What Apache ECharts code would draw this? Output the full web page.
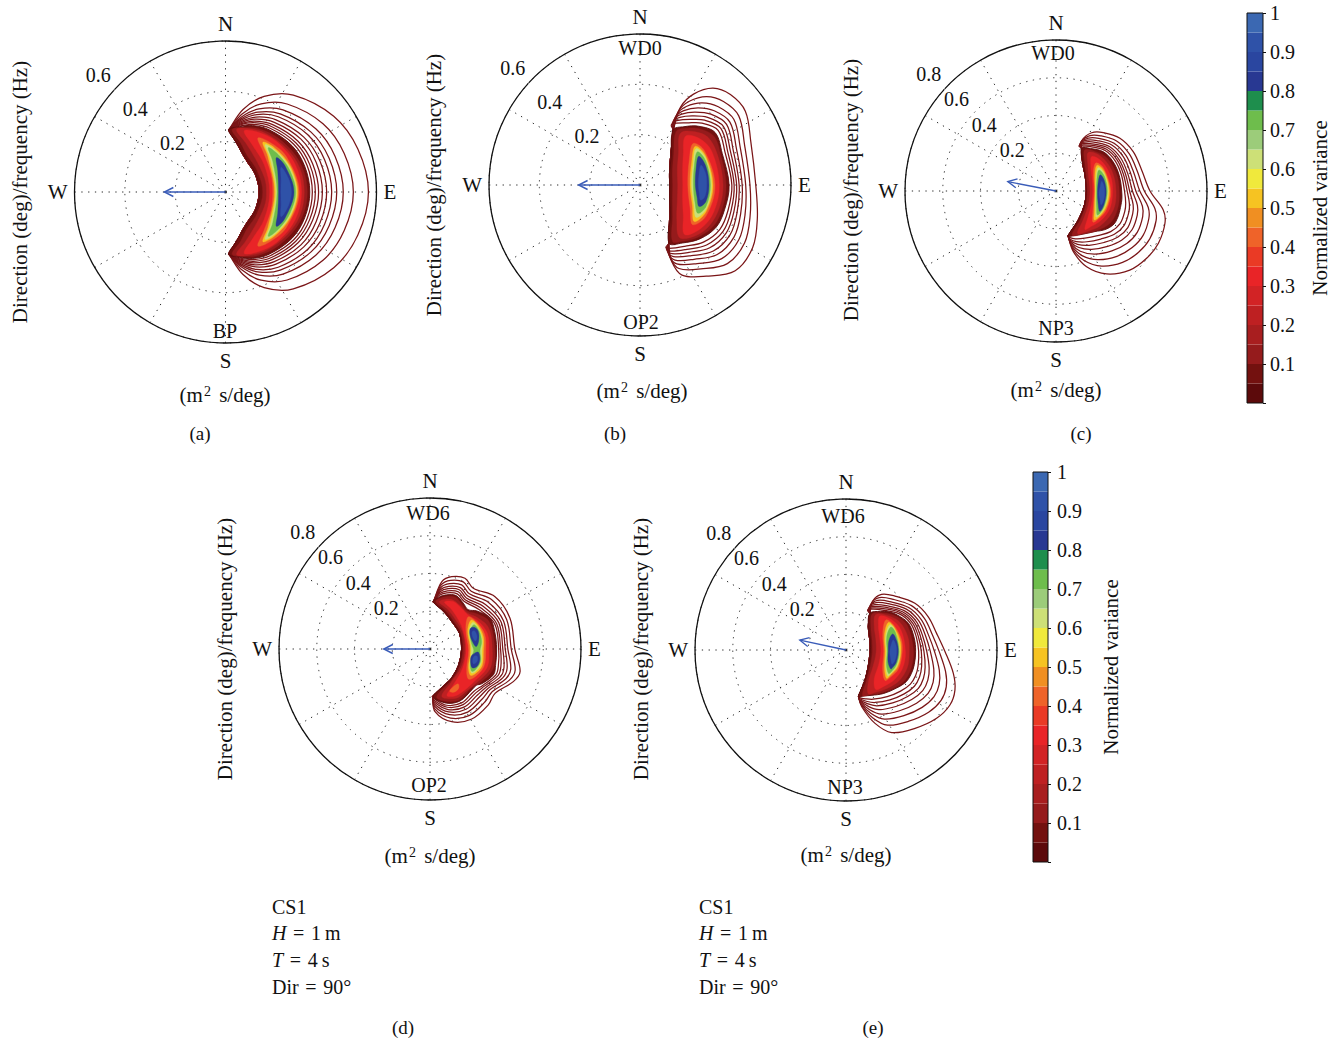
<!DOCTYPE html>
<html><head><meta charset="utf-8">
<script src="https://cdn.jsdelivr.net/npm/echarts@6/dist/echarts.min.js"></script>
<style>html,body{margin:0;padding:0;background:#fff}#c{width:1336px;height:1040px}</style>
</head><body><div id="c"></div>
<script>
// ================= DATA =================
const plotCaptions = ['(a)','(b)','(c)','(d)','(e)'];
const radiusMax = [0.6, 0.6, 0.8, 0.8, 0.8];
const radiusTicks = [[0.2,0.4,0.6],[0.2,0.4,0.6],[0.2,0.4,0.6,0.8],[0.2,0.4,0.6,0.8],[0.2,0.4,0.6,0.8]];
const compass = {0:'N', 90:'E', 180:'S', 270:'W'};
const topLabels = ['', 'WD0', 'WD0', 'WD6', 'WD6'];
const bottomLabels = ['BP', 'OP2', 'NP3', 'OP2', 'NP3'];
const meanDir = [270, 270, 281, 270, 282];       // deg (compass)
const meanLen = [0.243, 0.244, 0.26, 0.245, 0.25]; // Hz
const caseInfo = ['CS1', '{i|H}\u2004=\u20041\u2009m', '{i|T}\u2004=\u20044\u2009s', 'Dir\u2004=\u200490°'];

// colour bar: 20 bands of 0.05 normalized variance
const cbStep = 0.05;
const cbColors = ['#5c0a0b','#73110f','#951b1c','#a81e1f','#be2022','#d22325','#e92427','#ea3a25','#ef6329','#f08f22',
                  '#f6c322','#f0e93c','#cde077','#9ccc7a','#6ebd4c','#1e8e4d','#283892','#2a46a0','#2f52a8','#3b68b2'];

// ---- contour lines: radii (Hz) at shared bearings (deg); closed along the inner edge [r, bearing]
const linesBrgA = [3,12,22,35,55,72,90,108,125,145,158,168,177];
const linesA = [
 [0.247,0.335,0.41,0.47,0.525,0.553,0.568,0.553,0.525,0.47,0.41,0.335,0.247],
 [0.247,0.317,0.378,0.427,0.473,0.496,0.508,0.496,0.473,0.427,0.378,0.317,0.247],
 [0.247,0.305,0.356,0.398,0.438,0.458,0.468,0.458,0.438,0.398,0.356,0.305,0.247],
 [0.247,0.297,0.342,0.379,0.415,0.433,0.442,0.433,0.415,0.379,0.342,0.297,0.247],
 [0.247,0.291,0.332,0.365,0.398,0.414,0.422,0.414,0.398,0.365,0.332,0.291,0.247],
 [0.247,0.285,0.321,0.35,0.38,0.395,0.402,0.395,0.38,0.35,0.321,0.285,0.247],
 [0.247,0.28,0.312,0.338,0.366,0.379,0.385,0.379,0.366,0.338,0.312,0.28,0.247],
 [0.247,0.276,0.304,0.327,0.352,0.364,0.37,0.364,0.352,0.327,0.304,0.276,0.247],
 [0.247,0.272,0.297,0.318,0.341,0.352,0.357,0.352,0.341,0.318,0.297,0.272,0.247],
 [0.247,0.268,0.29,0.309,0.331,0.341,0.345,0.341,0.331,0.309,0.29,0.268,0.247]
];
const innerA = [[0.247,177],[0.2,167],[0.165,155],[0.15,145],[0.138,120],[0.134,90],[0.138,60],[0.15,35],[0.165,25],[0.2,13],[0.247,3]];

const linesBrgB = [31,27.5,30.5,37,45,55,69,90,106,119,132,144,155,157.5,154];
const linesB = [
 [0.257,0.348,0.419,0.482,0.508,0.511,0.472,0.46,0.485,0.512,0.509,0.448,0.395,0.326,0.26],
 [0.257,0.329,0.386,0.44,0.469,0.479,0.445,0.437,0.455,0.475,0.467,0.412,0.366,0.312,0.26],
 [0.257,0.315,0.362,0.409,0.44,0.455,0.426,0.42,0.434,0.449,0.437,0.386,0.346,0.302,0.26],
 [0.257,0.303,0.343,0.384,0.417,0.436,0.41,0.406,0.416,0.427,0.413,0.365,0.329,0.293,0.26],
 [0.257,0.293,0.327,0.363,0.398,0.42,0.396,0.394,0.401,0.409,0.392,0.347,0.314,0.286,0.26],
 [0.257,0.285,0.312,0.344,0.38,0.405,0.384,0.384,0.388,0.392,0.373,0.331,0.301,0.28,0.26],
 [0.257,0.277,0.298,0.326,0.364,0.392,0.373,0.374,0.376,0.378,0.356,0.316,0.29,0.274,0.26],
 [0.257,0.269,0.285,0.309,0.348,0.379,0.362,0.365,0.364,0.363,0.339,0.301,0.278,0.268,0.26]
];
const innerB = [[0.26,154],[0.17,136],[0.13,115],[0.118,90],[0.13,65],[0.167,47],[0.257,31]];

const linesBrgC = [31,27,31.5,39,50.5,63,76,90,100,106.5,117,126.6,137,148.6,158,164,165];
const linesC = [
 [0.264,0.299,0.362,0.398,0.439,0.459,0.467,0.498,0.577,0.602,0.609,0.598,0.573,0.515,0.433,0.334,0.247],
 [0.264,0.292,0.344,0.376,0.416,0.435,0.443,0.468,0.532,0.553,0.558,0.545,0.517,0.466,0.397,0.317,0.247],
 [0.264,0.286,0.329,0.359,0.398,0.416,0.423,0.444,0.496,0.513,0.518,0.503,0.473,0.426,0.369,0.303,0.247],
 [0.264,0.282,0.316,0.344,0.383,0.40,0.406,0.423,0.465,0.479,0.483,0.467,0.434,0.392,0.344,0.29,0.247],
 [0.264,0.277,0.305,0.331,0.369,0.385,0.391,0.405,0.438,0.449,0.452,0.435,0.401,0.362,0.323,0.28,0.247],
 [0.264,0.274,0.296,0.32,0.358,0.373,0.379,0.39,0.415,0.424,0.427,0.409,0.373,0.337,0.305,0.271,0.247],
 [0.264,0.271,0.287,0.311,0.347,0.363,0.368,0.377,0.395,0.402,0.404,0.385,0.348,0.315,0.289,0.264,0.247],
 [0.264,0.268,0.279,0.301,0.337,0.352,0.357,0.363,0.375,0.38,0.381,0.361,0.323,0.293,0.273,0.256,0.247]
];
const innerC = [[0.247,165],[0.194,142],[0.168,115],[0.161,90],[0.175,62],[0.204,44],[0.264,31]];

const linesBrgD = [4,10,16.7,26.3,35.5,51.2,69,90.5,104,111.4,124.3,133.8,149.2,163.4,175.4,177];
const linesD = [
 [0.251,0.362,0.4,0.418,0.395,0.442,0.454,0.45,0.492,0.474,0.417,0.428,0.432,0.402,0.333,0.253],
 [0.251,0.346,0.38,0.397,0.376,0.418,0.435,0.431,0.465,0.452,0.40,0.404,0.409,0.382,0.318,0.253],
 [0.251,0.331,0.362,0.379,0.359,0.396,0.417,0.413,0.441,0.432,0.384,0.383,0.389,0.363,0.304,0.253],
 [0.251,0.319,0.347,0.363,0.345,0.377,0.403,0.399,0.421,0.415,0.371,0.365,0.372,0.348,0.292,0.253],
 [0.251,0.308,0.334,0.35,0.332,0.361,0.39,0.386,0.404,0.401,0.36,0.35,0.357,0.335,0.282,0.253],
 [0.251,0.298,0.322,0.338,0.321,0.347,0.378,0.374,0.387,0.387,0.349,0.336,0.343,0.322,0.273,0.253],
 [0.251,0.289,0.311,0.326,0.31,0.333,0.368,0.364,0.373,0.375,0.34,0.323,0.331,0.311,0.264,0.253]
];
const innerD = [[0.253,177],[0.21,160],[0.193,143.5],[0.175,120],[0.168,90],[0.178,62],[0.184,42],[0.21,22],[0.251,4]];

const linesBrgE = [33,28.5,32.5,42.2,55.9,68,79.6,91,102.3,110.2,117.9,127,138.6,151,158.4,164.5,165];
const linesE = [
 [0.232,0.294,0.35,0.386,0.441,0.47,0.488,0.525,0.582,0.615,0.623,0.601,0.553,0.5,0.418,0.312,0.256],
 [0.232,0.282,0.329,0.364,0.419,0.448,0.464,0.494,0.54,0.566,0.57,0.548,0.503,0.455,0.387,0.301,0.256],
 [0.232,0.272,0.312,0.346,0.401,0.43,0.444,0.469,0.506,0.526,0.528,0.505,0.464,0.419,0.362,0.292,0.256],
 [0.232,0.264,0.298,0.331,0.386,0.415,0.428,0.447,0.476,0.492,0.492,0.468,0.429,0.388,0.34,0.284,0.256],
 [0.232,0.256,0.285,0.317,0.372,0.402,0.413,0.428,0.451,0.462,0.46,0.436,0.399,0.361,0.321,0.277,0.256],
 [0.232,0.25,0.274,0.306,0.361,0.391,0.401,0.413,0.429,0.437,0.434,0.409,0.374,0.338,0.306,0.272,0.256],
 [0.232,0.245,0.265,0.296,0.351,0.381,0.39,0.399,0.41,0.415,0.41,0.386,0.352,0.318,0.292,0.267,0.256],
 [0.232,0.239,0.256,0.286,0.341,0.371,0.379,0.385,0.391,0.393,0.386,0.362,0.33,0.298,0.278,0.262,0.256]
];
const innerE = [[0.256,165],[0.19,148],[0.145,125],[0.128,98],[0.135,70],[0.171,44],[0.232,33]];

// ---- filled contour levels: [level, polygon of [r (Hz), bearing (deg)]]
const fillsA = [
 [0.05,[[0.247,3],[0.265,12],[0.285,22],[0.302,35],[0.322,55],[0.331,72],[0.335,90],[0.331,108],[0.322,125],[0.302,145],[0.285,158],[0.265,168],[0.247,177],[0.2,167],[0.167,155],[0.152,145],[0.14,120],[0.136,90],[0.14,60],[0.152,35],[0.167,25],[0.2,13]]],
 [0.1,[[0.249,6],[0.265,15],[0.283,27],[0.3,45],[0.318,68],[0.325,90],[0.318,112],[0.3,135],[0.283,153],[0.265,165],[0.249,174],[0.205,163],[0.17,150],[0.152,125],[0.148,90],[0.152,55],[0.17,30],[0.205,17]]],
 [0.2,[[0.252,10],[0.268,20],[0.283,35],[0.298,55],[0.31,72],[0.313,90],[0.31,108],[0.298,125],[0.283,145],[0.268,160],[0.252,170],[0.212,158],[0.18,140],[0.165,110],[0.163,90],[0.165,70],[0.18,40],[0.212,22]]],
 [0.3,[[0.254,17],[0.27,28],[0.285,45],[0.298,68],[0.302,90],[0.298,112],[0.285,135],[0.27,152],[0.254,163],[0.215,150],[0.188,125],[0.176,90],[0.188,55],[0.215,30]]],
 [0.4,[[0.25,31],[0.265,42],[0.28,60],[0.293,90],[0.28,120],[0.265,138],[0.25,149],[0.218,136],[0.195,112],[0.188,90],[0.195,68],[0.218,44]]],
 [0.5,[[0.247,37],[0.262,48],[0.277,68],[0.287,90],[0.277,112],[0.262,132],[0.247,143],[0.22,130],[0.195,90],[0.22,50]]],
 [0.6,[[0.246,40],[0.26,52],[0.274,70],[0.283,90],[0.274,110],[0.26,128],[0.246,140],[0.222,127],[0.2,90],[0.222,53]]],
 [0.7,[[0.245,44],[0.258,56],[0.27,72],[0.279,90],[0.27,108],[0.258,124],[0.245,136],[0.224,123],[0.205,90],[0.224,57]]],
 [0.8,[[0.244,56],[0.258,66],[0.272,90],[0.258,114],[0.244,124],[0.224,112],[0.211,90],[0.224,68]]],
 [0.9,[[0.242,66],[0.256,78],[0.262,90],[0.256,102],[0.242,114],[0.226,102],[0.22,90],[0.226,78]]]
];
const fillsB = [
 [0.05,[[0.255,31],[0.29,37],[0.33,45],[0.364,55],[0.35,69],[0.354,90],[0.35,106],[0.346,119],[0.32,132],[0.285,144],[0.259,153.5],[0.17,135],[0.13,115],[0.118,90],[0.13,65],[0.167,48]]],
 [0.1,[[0.257,34],[0.295,40],[0.33,48],[0.352,57],[0.342,70],[0.342,90],[0.34,106],[0.335,119],[0.31,132],[0.28,143],[0.259,150],[0.18,134],[0.14,113],[0.13,90],[0.14,67],[0.18,48]]],
 [0.2,[[0.26,38],[0.3,45],[0.33,55],[0.33,70],[0.33,90],[0.328,106],[0.32,120],[0.3,132],[0.262,143],[0.2,133],[0.16,112],[0.15,90],[0.16,68],[0.2,50]]],
 [0.3,[[0.265,43],[0.3,52],[0.315,65],[0.315,90],[0.312,110],[0.298,125],[0.265,138],[0.21,125],[0.178,108],[0.17,90],[0.178,72],[0.21,55]]],
 [0.4,[[0.268,52],[0.29,62],[0.298,90],[0.29,115],[0.262,127],[0.22,115],[0.19,90],[0.22,63]]],
 [0.5,[[0.268,55],[0.285,65],[0.29,90],[0.283,112],[0.26,124],[0.225,112],[0.199,90],[0.225,66]]],
 [0.6,[[0.266,57],[0.282,67],[0.285,90],[0.28,110],[0.258,120],[0.228,110],[0.205,90],[0.228,68]]],
 [0.7,[[0.264,60],[0.278,70],[0.28,90],[0.276,108],[0.256,116],[0.23,108],[0.212,90],[0.23,70]]],
 [0.8,[[0.26,64],[0.272,74],[0.274,90],[0.27,104],[0.25,110],[0.232,102],[0.22,90],[0.232,74]]],
 [0.9,[[0.255,72],[0.265,80],[0.265,90],[0.262,100],[0.248,104],[0.238,98],[0.232,90],[0.238,80]]]
];
const fillsC = [
 [0.05,[[0.264,31],[0.29,39],[0.326,50.5],[0.34,63],[0.345,76],[0.348,90],[0.352,100],[0.356,117],[0.335,127],[0.295,137],[0.268,149],[0.255,158],[0.247,165],[0.194,142],[0.17,118],[0.161,90],[0.175,62],[0.204,44]]],
 [0.1,[[0.265,35],[0.295,45],[0.322,57],[0.333,75],[0.335,90],[0.34,105],[0.335,120],[0.3,135],[0.27,147],[0.25,160],[0.2,140],[0.175,115],[0.166,90],[0.18,63],[0.21,47]]],
 [0.2,[[0.266,40],[0.3,52],[0.315,70],[0.318,90],[0.32,108],[0.3,127],[0.272,142],[0.252,153],[0.21,137],[0.186,113],[0.18,90],[0.19,65],[0.22,50]]],
 [0.3,[[0.264,46],[0.29,58],[0.3,75],[0.30,90],[0.3,108],[0.285,123],[0.265,135],[0.255,143],[0.22,130],[0.2,110],[0.195,90],[0.205,68],[0.228,54]]],
 [0.4,[[0.26,55],[0.28,65],[0.29,90],[0.285,110],[0.27,123],[0.256,130],[0.225,120],[0.203,90],[0.225,62]]],
 [0.5,[[0.258,58],[0.276,68],[0.283,90],[0.278,110],[0.256,127],[0.228,117],[0.207,90],[0.228,65]]],
 [0.6,[[0.256,61],[0.272,70],[0.277,90],[0.272,110],[0.255,123],[0.23,114],[0.211,90],[0.23,68]]],
 [0.7,[[0.254,64],[0.268,73],[0.272,90],[0.268,108],[0.254,120],[0.232,112],[0.214,90],[0.232,70]]],
 [0.8,[[0.25,70],[0.262,78],[0.266,92],[0.264,106],[0.256,115],[0.232,106],[0.22,92],[0.232,76]]],
 [0.9,[[0.248,78],[0.256,85],[0.258,93],[0.257,101],[0.25,107],[0.236,100],[0.228,93],[0.236,84]]]
];
const fillsD = [
 [0.05,[[0.251,4],[0.28,10],[0.30,17],[0.315,26],[0.30,36],[0.29,44],[0.32,51],[0.357,63],[0.355,75],[0.353,90],[0.358,104],[0.363,112],[0.33,124],[0.312,128],[0.31,134],[0.318,150],[0.30,163],[0.253,176],[0.21,160],[0.193,143.5],[0.175,120],[0.168,90],[0.178,62],[0.184,42],[0.21,22]]],
 [0.1,[[0.253,7],[0.285,15],[0.305,26],[0.29,36],[0.283,45],[0.31,53],[0.345,65],[0.343,90],[0.35,108],[0.32,124],[0.302,132],[0.31,150],[0.29,163],[0.255,172],[0.2,145],[0.182,120],[0.175,90],[0.185,62],[0.193,42],[0.22,22]]],
 [0.2,[[0.255,11],[0.285,22],[0.28,36],[0.275,46],[0.3,56],[0.33,70],[0.33,90],[0.335,108],[0.305,126],[0.295,138],[0.295,152],[0.26,166],[0.21,148],[0.192,120],[0.185,90],[0.195,62],[0.205,42],[0.23,24]]],
 [0.3,[[0.26,17],[0.28,26],[0.272,38],[0.27,48],[0.295,60],[0.315,75],[0.312,92],[0.318,108],[0.29,127],[0.285,140],[0.282,152],[0.262,160],[0.225,146],[0.2,120],[0.192,90],[0.2,62],[0.215,45],[0.24,28]]],
 [0.4,[[0.238,141],[0.258,144],[0.262,151],[0.247,155],[0.235,148]]],
 [0.4,[[0.265,50],[0.285,60],[0.3,75],[0.295,92],[0.3,108],[0.28,122],[0.258,128],[0.22,118],[0.205,92],[0.215,62]]],
 [0.5,[[0.268,55],[0.285,65],[0.29,78],[0.283,92],[0.29,108],[0.272,119],[0.255,123],[0.225,115],[0.215,100],[0.213,85],[0.222,64]]],
 [0.6,[[0.268,58],[0.28,68],[0.282,80],[0.275,92],[0.282,106],[0.268,117],[0.253,120],[0.228,113],[0.22,100],[0.218,85],[0.226,66]]],
 [0.7,[[0.266,61],[0.277,70],[0.276,82],[0.265,92],[0.276,104],[0.264,115],[0.25,118],[0.23,112],[0.225,100],[0.232,92],[0.223,84],[0.228,68]]],
 [0.8,[[0.24,63],[0.262,64],[0.272,70],[0.262,80],[0.245,87],[0.228,80],[0.225,70]]],
 [0.8,[[0.24,95],[0.258,94],[0.27,102],[0.266,110],[0.245,114],[0.226,108],[0.222,100]]],
 [0.9,[[0.24,68],[0.255,68],[0.258,75],[0.245,80],[0.235,75]]],
 [0.9,[[0.238,99],[0.254,99],[0.258,105],[0.244,109],[0.233,104]]]
];
const fillsE = [
 [0.05,[[0.232,33],[0.275,42],[0.302,48],[0.33,56],[0.36,67],[0.367,80],[0.369,91],[0.37,102],[0.368,110],[0.36,118],[0.335,127],[0.305,139],[0.275,151],[0.262,158],[0.256,165],[0.19,148],[0.145,125],[0.13,98],[0.137,70],[0.171,44]]],
 [0.1,[[0.237,36],[0.28,46],[0.32,56],[0.35,68],[0.357,90],[0.358,105],[0.35,118],[0.325,128],[0.295,140],[0.27,151],[0.258,160],[0.195,146],[0.155,124],[0.14,96],[0.147,70],[0.18,47]]],
 [0.2,[[0.245,40],[0.285,50],[0.32,62],[0.335,78],[0.335,92],[0.338,106],[0.325,120],[0.3,132],[0.275,144],[0.26,153],[0.2,143],[0.168,122],[0.16,95],[0.168,70],[0.195,50]]],
 [0.3,[[0.255,45],[0.29,56],[0.31,70],[0.315,92],[0.315,108],[0.3,122],[0.278,134],[0.262,143],[0.215,136],[0.19,115],[0.185,92],[0.19,70],[0.215,53]]],
 [0.4,[[0.265,53],[0.285,62],[0.298,78],[0.298,92],[0.295,110],[0.275,122],[0.262,128],[0.22,118],[0.2,92],[0.215,65]]],
 [0.5,[[0.268,57],[0.283,66],[0.291,80],[0.291,92],[0.288,108],[0.27,120],[0.262,125],[0.225,115],[0.207,92],[0.22,68]]],
 [0.6,[[0.268,60],[0.28,68],[0.286,92],[0.283,108],[0.268,118],[0.26,122],[0.228,113],[0.213,92],[0.224,70]]],
 [0.7,[[0.267,63],[0.278,71],[0.282,92],[0.278,107],[0.266,116],[0.258,119],[0.23,111],[0.218,92],[0.227,72]]],
 [0.8,[[0.262,71],[0.273,80],[0.277,92],[0.274,104],[0.265,110],[0.258,113],[0.232,106],[0.224,92],[0.232,78]]],
 [0.9,[[0.256,78],[0.266,85],[0.268,93],[0.265,102],[0.255,107],[0.24,100],[0.232,92],[0.24,84]]]
];

// ================= LAYOUT / STYLE =================
const FONT = "'Liberation Serif','Times New Roman',serif";
const INK = '#111111';
const layout = [
  {c:[225.5,192], ylab:[20,192],  unit:[225,395], cap:[200,433], top:[640,48],  bot:[225,331]},
  {c:[640,185],   ylab:[434,185], unit:[642,391], cap:[615,433], top:[640,48],  bot:[641,322]},
  {c:[1056,191],  ylab:[851,190], unit:[1056,390],cap:[1081,433],top:[1053,53], bot:[1056,328]},
  {c:[430,649],   ylab:[225,649], unit:[430,856], cap:[403,1027],top:[428,513], bot:[429,785]},
  {c:[846,650],   ylab:[641,649], unit:[846,855], cap:[873,1027],top:[843,516], bot:[845,787]}
];
const plots = [
  {lineBrg:linesBrgA, lines:linesA, inner:innerA, fills:fillsA},
  {lineBrg:linesBrgB, lines:linesB, inner:innerB, fills:fillsB},
  {lineBrg:linesBrgC, lines:linesC, inner:innerC, fills:fillsC},
  {lineBrg:linesBrgD, lines:linesD, inner:innerD, fills:fillsD},
  {lineBrg:linesBrgE, lines:linesE, inner:innerE, fills:fillsE}
];
const dotted = {type:[1.3,5.5], color:'#2a2a2a', width:1};

const polar = [], angleAxis = [], radiusAxis = [], series = [], graphic = [];
layout.forEach((L, i) => {
  polar.push({center:L.c, radius:151});
  angleAxis.push({polarIndex:i, type:'value', min:0, max:360, interval:30, startAngle:90, clockwise:true,
    axisLine:{show:true, lineStyle:{color:INK, width:1.3}}, axisTick:{show:false},
    axisLabel:{show:true, margin:7, fontFamily:FONT, fontSize:21, color:INK, formatter:v => compass[v] || ''},
    splitLine:{show:true, lineStyle:dotted}});
  radiusAxis.push({polarIndex:i, type:'value', min:0, max:radiusMax[i], interval:0.2,
    axisLine:{show:false}, axisTick:{show:false}, axisLabel:{show:false},
    splitLine:{show:true, lineStyle:dotted}});

  const p = plots[i];
  const items = [];
  p.lines.forEach(rs => items.push({line:true, pts: rs.map((r, j) => [r, p.lineBrg[j]]).concat(p.inner)}));
  p.fills.forEach(f => items.push({line:false, lv:f[0], color:cbColors[Math.round(f[0]/cbStep)], pts:f[1]}));
  series.push({type:'custom', coordinateSystem:'polar', polarIndex:i, silent:true, z:3,
    data: items.map(() => [0, 0]),
    renderItem: (params, api) => {
      const it = items[params.dataIndex];
      const pts = it.pts.map(q => { const c = api.coord([q[0], q[1]]); return [c[0], c[1]]; });
      return {type:'polygon', z2:params.dataIndex, shape:{points:pts, smooth:0.35},
        style: it.line ? {fill:'none', stroke:'#7a1517', lineWidth:1.25}
          : {fill:it.color, stroke: it.lv <= 0.05 ? '#5c0a0b' : it.color, lineWidth: it.lv <= 0.05 ? 0.9 : 0.4}};
    }});
  // mean direction arrow
  series.push({type:'custom', coordinateSystem:'polar', polarIndex:i, silent:true, z:4,
    data:[[meanLen[i], meanDir[i]]],
    renderItem: (params, api) => {
      const len = api.value(0), dir = api.value(1);
      const p0 = api.coord([0, dir]), p1 = api.coord([len, dir]);
      const a = Math.atan2(p1[1]-p0[1], p1[0]-p0[0]);
      const h = 9, w = 4.5;
      const bx = p1[0] - h*Math.cos(a), by = p1[1] - h*Math.sin(a);
      const nx = -Math.sin(a)*w, ny = Math.cos(a)*w;
      const st = {stroke:'#3a5cb8', lineWidth:1.4, fill:'none'};
      return {type:'group', children:[
        {type:'line', shape:{x1:p0[0], y1:p0[1], x2:p1[0], y2:p1[1]}, style:st},
        {type:'polyline', shape:{points:[[bx+nx, by+ny],[p1[0], p1[1]],[bx-nx, by-ny]]}, style:st}
      ]};
    }});
  // radius tick labels
  series.push({type:'scatter', coordinateSystem:'polar', polarIndex:i, silent:true, z:5,
    symbol:'circle', symbolSize:1, itemStyle:{color:'#ffffff', opacity:1},
    data: radiusTicks[i].map(t => [t, 312.5]),
    label:{show:true, position:'inside', offset:[-16,-15], fontFamily:FONT, fontSize:20, color:INK,
      opacity:1, textBorderWidth:0, textShadowBlur:0, formatter: pr => String(pr.value[0])},
    emphasis:{disabled:true}});

  // texts
  graphic.push({type:'text', x:L.ylab[0], y:L.ylab[1], rotation:Math.PI/2,
    style:{text:'Direction (deg)/frequency (Hz)', font:'21px ' + FONT, fill:INK, align:'center', verticalAlign:'middle'}});
  graphic.push({type:'text', x:L.unit[0], y:L.unit[1],
    style:{text:'(m{sup|2} s/deg)', font:'21px ' + FONT, fill:INK, align:'center', verticalAlign:'middle',
      rich:{sup:{fontSize:14, fontFamily:FONT, fill:INK, verticalAlign:'top', padding:[0,3,0,1]}}}});
  graphic.push({type:'text', x:L.cap[0], y:L.cap[1],
    style:{text:plotCaptions[i], font:'19px ' + FONT, fill:INK, align:'center', verticalAlign:'middle'}});
  if (topLabels[i]) graphic.push({type:'text', x:L.top[0], y:L.top[1],
    style:{text:topLabels[i], font:'20px ' + FONT, fill:INK, align:'center', verticalAlign:'middle'}});
  graphic.push({type:'text', x:L.bot[0], y:L.bot[1],
    style:{text:bottomLabels[i], font:'20px ' + FONT, fill:INK, align:'center', verticalAlign:'middle'}});
});

// case description blocks
[272, 699].forEach(x => {
  const ys = [907, 933, 960, 987];
  caseInfo.forEach((t, k) => graphic.push({type:'text', x:x, y:ys[k],
    style:{text:t, font:'20px ' + FONT, fill:INK, align:'left', verticalAlign:'middle',
      rich:{i:{fontStyle:'italic', fontSize:20, fontFamily:FONT, fill:INK}}}}));
});

// colour bars
const cbGrids = [{left:1247, top:13, width:16, height:390, nameGap:46, margin:7},
                 {left:1033, top:472, width:15, height:390, nameGap:52, margin:9}];
const grid = [], xAxis = [], yAxis = [];
cbGrids.forEach((g, k) => {
  grid.push({left:g.left, top:g.top, width:g.width, height:g.height, show:true, z:6,
    borderColor:INK, borderWidth:1, backgroundColor:'rgba(0,0,0,0)', containLabel:false});
  xAxis.push({gridIndex:k, type:'category', data:['v'], show:false});
  yAxis.push({gridIndex:k, type:'value', position:'right', min:0, max:1, interval:0.1,
    axisLine:{show:false}, splitLine:{show:false},
    axisTick:{show:true, inside:false, length:3, lineStyle:{color:INK}},
    axisLabel:{margin:g.margin, fontFamily:FONT, fontSize:20, color:INK,
      formatter: v => v === 0 ? '' : String(Math.round(v*10)/10)},
    name:'Normalized variance', nameLocation:'middle', nameRotate:90, nameGap:g.nameGap,
    nameTextStyle:{fontFamily:FONT, fontSize:21, color:INK}});
  cbColors.forEach(c => series.push({type:'bar', xAxisIndex:k, yAxisIndex:k, stack:'cb' + k,
    data:[cbStep], barWidth:'100%', silent:true, itemStyle:{color:c}, z:2}));
});

const chart = echarts.init(document.getElementById('c'), null, {renderer:'svg', width:1336, height:1040});
chart.setOption({
  animation:false, backgroundColor:'#ffffff',
  textStyle:{fontFamily:FONT},
  polar, angleAxis, radiusAxis, grid, xAxis, yAxis, series, graphic
});
</script>
</body></html>
